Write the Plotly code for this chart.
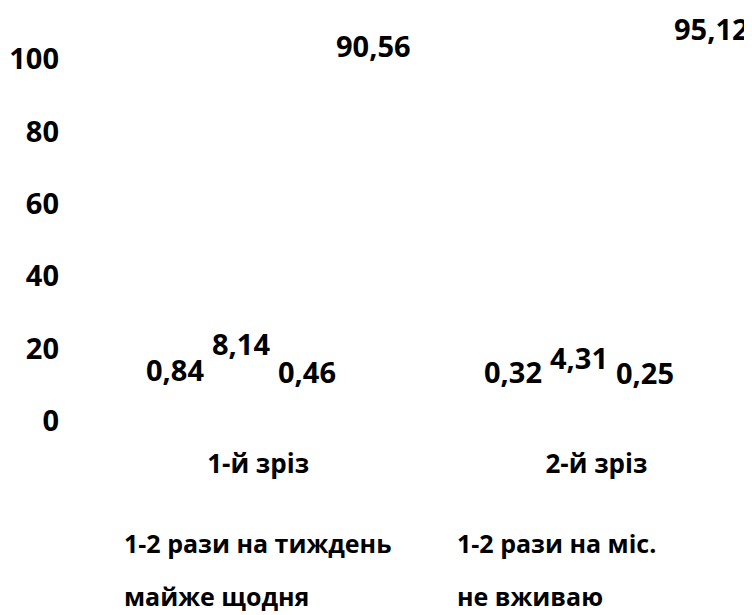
import plotly.graph_objects as go

categories = ["1-й зріз", "2-й зріз"]
series_names = ["1-2 рази на тиждень", "1-2 рази на міс.", "майже щодня", "не вживаю"]
weekly = [0.84, 0.32]
monthly = [8.14, 4.31]
daily = [0.46, 0.25]
never = [90.56, 95.12]
y_ticks = [0, 20, 40, 60, 80, 100]

series_values = [weekly, monthly, daily, never]
cat_pos = list(range(len(categories)))

W, H = 744, 607  # page body margin of 8px fills the rest of the 752x615 window
BARGAP = 0.22
NUM_FONT = dict(family="Open Sans", size=29, color="black", weight="bold")
CAT_FONT = dict(family="Open Sans", size=26, color="black", weight="bold")
LEG_FONT = dict(family="Open Sans", size=25, color="black", weight="bold")

fig = go.Figure()
legend_of = ["legend", "legend", "legend2", "legend2"]
for name, vals, lg in zip(series_names, series_values, legend_of):
    fig.add_trace(go.Bar(
        x=cat_pos, y=vals, name=name,
        marker=dict(color="#ffffff", line=dict(width=0)),
        legend=lg,
    ))

n = len(series_values)
bw = (1 - BARGAP) / n
for j, vals in enumerate(series_values):
    for i, v in zip(cat_pos, vals):
        fig.add_annotation(
            x=i + (j - (n - 1) / 2) * bw, y=v,
            text=f"{v:.2f}".replace(".", ","),
            showarrow=False, xanchor="center", yanchor="middle",
            xshift=16, yshift=48, font=NUM_FONT,
        )

leg_common = dict(
    orientation="h", xref="container", yref="container",
    xanchor="left", yanchor="middle",
    entrywidth=288, entrywidthmode="pixels",
    font=LEG_FONT, bgcolor="rgba(0,0,0,0)", itemclick=False,
)

fig.update_layout(
    width=W, height=H,
    margin=dict(l=81, r=0, t=51, b=194, autoexpand=False),
    plot_bgcolor="white", paper_bgcolor="white",
    font=NUM_FONT,
    barmode="group", bargap=BARGAP, bargroupgap=0,
    xaxis=dict(range=[-0.5, 1.46], tickmode="array", tickvals=cat_pos, ticktext=categories,
               showgrid=False, zeroline=False, showline=False, ticks="", automargin=False,
               ticklabelstandoff=25, tickfont=CAT_FONT),
    yaxis=dict(range=[0, 100], tickmode="array", tickvals=y_ticks,
               showgrid=False, zeroline=False, showline=False, ticks="", automargin=False,
               ticklabelstandoff=29, tickfont=NUM_FONT),
    legend=dict(x=76 / W, y=1 - 535 / H, **leg_common),
    legend2=dict(x=76 / W, y=1 - 588 / H, **leg_common),
    showlegend=True,
)

fig.write_html("out.html")
